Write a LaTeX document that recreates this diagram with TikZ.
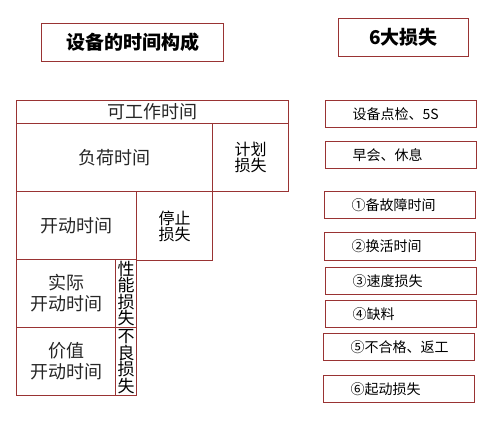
\documentclass[tikz,border=0pt]{standalone}
\usepackage{fontspec}
\setmainfont{Noto Sans CJK SC}
\usetikzlibrary{positioning}
\definecolor{boxred}{RGB}{153,51,51}

\begin{document}
\begin{tikzpicture}[
			x=1pt,y=-1pt,
			titlebox/.style={
				rectangle,
				draw=boxred,
				line width=1pt,
				anchor=north west,
				minimum height=38pt,
				inner sep=0pt,
				align=center,
				font=\fontsize{19}{21}\selectfont\bfseries
			},
			cell/.style={
				rectangle,
				draw=boxred,
				line width=1pt,
				anchor=north west,
				inner sep=0pt,
				align=center,
				text=black!85,
				font=\fontsize{18}{21}\selectfont
			},
			losscell/.style={
				cell,
				text=black,
				font=\fontsize{16}{16}\selectfont
			},
			narrowcell/.style={
				cell,
				text=black,
				font=\fontsize{17}{16.5}\selectfont
			},
			lossbox/.style={
				rectangle,
				draw=boxred,
				line width=1pt,
				anchor=north west,
				text width=97pt,
				inner xsep=27pt,
				inner ysep=0pt,
				minimum height=27pt,
				align=left,
				font=\fontsize{14}{16}\selectfont
			}
			]
			\useasboundingbox (0,0) rectangle (494,420);

			\node[titlebox, minimum width=182pt] (timetitle) at (41,23) {设备的时间构成};
			\node[titlebox, minimum width=130pt] (losstitle) at (338,18) {6大损失};

			\node[cell, minimum width=272pt, minimum height=23pt] (worktime) at (16,100) {可工作时间};
			\node[cell, minimum width=196pt, minimum height=68pt] (loadtime) at (16,123) {负荷时间};
			\node[losscell, minimum width=76pt, minimum height=68pt] (planloss) at (212,123) {计划\\损失};
			\node[cell, minimum width=120pt, minimum height=68pt] (runtime) at (16,191) {开动时间};
			\node[losscell, minimum width=76pt, minimum height=69pt] (stoploss) at (136,191) {停止\\损失};
			\node[cell, minimum width=99pt, minimum height=68pt] (netrun) at (16,259) {实际\\开动时间};
			\node[narrowcell, minimum width=21pt, minimum height=68pt] (perfloss) at (115,259) {性\\能\\损\\失};
			\node[cell, minimum width=99pt, minimum height=68pt] (valuerun) at (16,327) {价值\\开动时间};
			\node[narrowcell, minimum width=21pt, minimum height=68pt] (defectloss) at (115,327) {不\\良\\损\\失};

			\node[lossbox] (checkbox) at (325,100) {设备点检、5S};
			\node[lossbox] (restbox) at (325,141) {早会、休息};
			\node[lossbox] (faultbox) at (324,191) {①备故障时间};
			\node[lossbox, minimum height=28pt] (changebox) at (324,232) {②换活时间};
			\node[lossbox] (speedbox) at (325,267) {③速度损失};
			\node[lossbox] (shortbox) at (325,300) {④缺料};
			\node[lossbox] (rejectbox) at (323,333) {⑤不合格、返工};
			\node[lossbox] (startbox) at (323,375) {⑥起动损失};
		\end{tikzpicture}
\end{document}
